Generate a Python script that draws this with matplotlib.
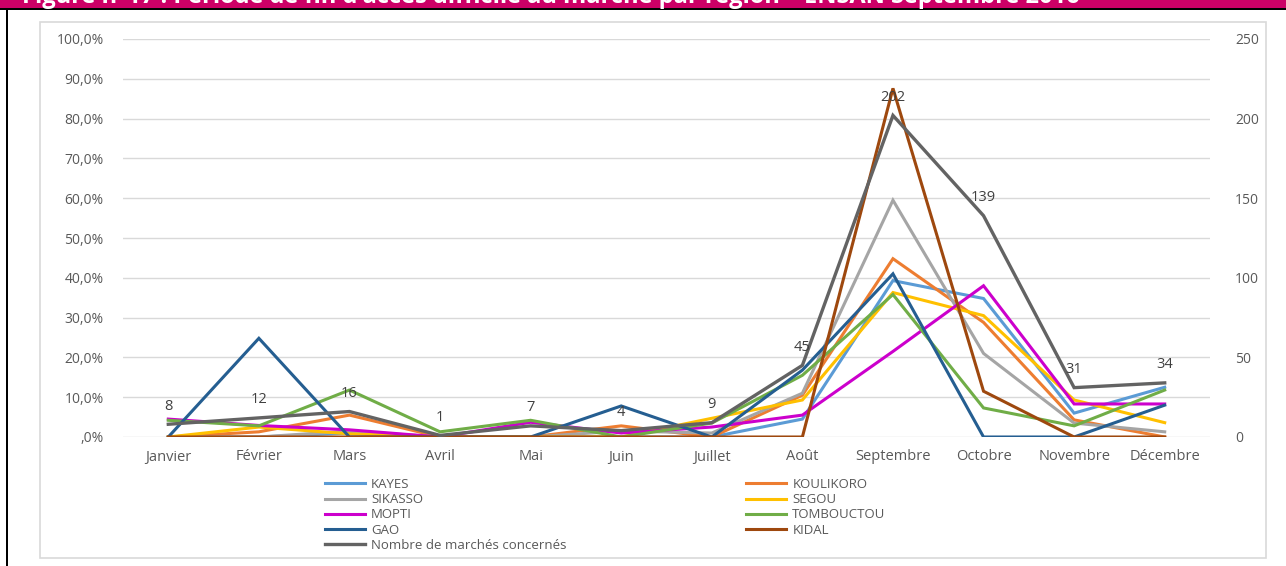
import numpy as np
import matplotlib.pyplot as plt
from matplotlib.patches import Rectangle
from matplotlib.ticker import FuncFormatter, MultipleLocator

plt.rcParams['font.family'] = ['Open Sans', 'DejaVu Sans']

# Mois et donnees ----------------------------------------------
mois = ['Janvier', 'Février', 'Mars', 'Avril', 'Mai', 'Juin', 'Juillet',
        'Août', 'Septembre', 'Octobre', 'Novembre', 'Décembre']

# part des marches (en %) par region
kayes      = [0.0, 0.0, 1.0, 0.0, 0.0, 0.0, 0.0, 4.5, 39.3, 34.8, 6.0, 12.5]
koulikoro  = [0.0, 1.3, 5.5, 0.0, 0.0, 2.8, 0.0, 10.5, 44.8, 28.8, 4.3, 0.0]
sikasso    = [0.0, 0.0, 1.5, 0.0, 0.0, 1.5, 1.0, 11.0, 59.5, 21.0, 3.5, 1.3]
segou      = [0.0, 2.5, 0.8, 0.0, 0.0, 0.0, 4.7, 9.3, 36.3, 30.5, 9.3, 3.6]
mopti      = [4.5, 2.9, 1.8, 0.0, 3.7, 1.0, 2.5, 5.5, 21.5, 38.0, 8.3, 8.3]
tombouctou = [4.2, 2.8, 11.8, 1.3, 4.2, 0.0, 3.5, 15.5, 35.8, 7.3, 2.8, 11.8]
gao        = [0.0, 24.8, 0.0, 0.0, 0.0, 7.8, 0.0, 16.8, 41.0, 0.0, 0.0, 8.0]
kidal      = [0.0, 0.0, 0.0, 0.0, 0.0, 0.0, 0.0, 0.0, 87.6, 11.5, 0.0, 0.0]

# nombre de marches concernes (axe secondaire)
nb_marches = [8, 12, 16, 1, 7, 4, 9, 45, 202, 139, 31, 34]

regions = ['KAYES', 'KOULIKORO', 'SIKASSO', 'SEGOU', 'MOPTI', 'TOMBOUCTOU', 'GAO', 'KIDAL']
series = [kayes, koulikoro, sikasso, segou, mopti, tombouctou, gao, kidal]
couleurs = ['#5B9BD5', '#ED7D31', '#A5A5A5', '#FFC000', '#CC00CC', '#70AD47', '#255E91', '#9E480E']
gris_nb = '#636363'
gris_txt = '#595959'

#Figure---------------------------------------------------------
fig = plt.figure(figsize=(12.86, 5.66), dpi=100)

# bandeau du titre (coupe en haut) et cadre noir
fig.patches.append(Rectangle((0, 1 - 8 / 566), 1, 8 / 566, transform=fig.transFigure,
                             facecolor='#CC0066', edgecolor='none', zorder=0))
fig.patches.append(Rectangle((0, 1 - 10 / 566), 1, 2 / 566, transform=fig.transFigure,
                             facecolor='black', edgecolor='none', zorder=1))
fig.patches.append(Rectangle((6 / 1286, 0), 2 / 1286, 1 - 8 / 566, transform=fig.transFigure,
                             facecolor='black', edgecolor='none', zorder=1))
fig.text(22 / 1286, 1 + 3 / 566,
         "Figure n°17 : Période de fin d'accès difficile au marché par région – ENSAN Septembre 2016",
         color='white', fontsize=17, fontweight='bold', va='center', ha='left', zorder=2)

# cadre gris du graphique
fig.patches.append(Rectangle((40 / 1286, 1 - 558 / 566), 1226 / 1286, 536 / 566,
                             transform=fig.transFigure, facecolor='none',
                             edgecolor='#D9D9D9', linewidth=1.2, zorder=1))

ax = fig.add_axes([123 / 1286, 1 - 437 / 566, 1087 / 1286, 398 / 566])
ax2 = ax.twinx()
x = np.arange(len(mois))

handles = []
for nom, vals, c in zip(regions, series, couleurs):
    h, = ax.plot(x, np.array(vals) / 100, color=c, linewidth=2.2, label=nom,
                 solid_joinstyle='miter')
    handles.append(h)

hn, = ax2.plot(x, nb_marches, color=gris_nb, linewidth=2.4,
               label='Nombre de marchés concernés', solid_joinstyle='miter')
for xi, v in zip(x, nb_marches):
    ax2.annotate(str(v), (xi, v), xytext=(0, 13), textcoords='offset points',
                 ha='center', va='center', fontsize=10.5, color='#404040')

ax.set_xlim(-0.5, 11.5)
ax.set_ylim(0, 1)
ax2.set_ylim(0, 250)
ax.yaxis.set_major_locator(MultipleLocator(0.1))
ax2.yaxis.set_major_locator(MultipleLocator(50))


def pct(v, pos):
    s = '%.1f%%' % (v * 100)
    s = s.replace('.', ',')
    if s.startswith('0,'):
        s = s[1:]
    return s


ax.yaxis.set_major_formatter(FuncFormatter(pct))
ax.set_xticks(x)
ax.set_xticklabels(mois)

for a in (ax, ax2):
    for sp in a.spines.values():
        sp.set_visible(False)
    a.tick_params(length=0, colors=gris_txt, labelsize=10)
ax.tick_params(axis='y', pad=14)
ax2.tick_params(axis='y', pad=18)
ax.tick_params(axis='x', pad=9, labelsize=10.5)

# grille tous les 10 %
for g in np.arange(0, 1.01, 0.1):
    ax.axhline(g, color='#D9D9D9', linewidth=1, zorder=0)

# legende sur deux colonnes
leg_h = [handles[i] for i in [0, 2, 4, 6]] + [hn] + [handles[i] for i in [1, 3, 5, 7]]
leg = fig.legend(handles=leg_h, labels=[h.get_label() for h in leg_h], ncol=2,
                 loc='upper left', bbox_to_anchor=(325 / 1286, 1 - 478 / 566),
                 frameon=False, fontsize=9.5, handlelength=3.0, handletextpad=0.5,
                 labelspacing=0.17, columnspacing=13.6, borderaxespad=0,
                 borderpad=0)
for t in leg.get_texts():
    t.set_color(gris_txt)

fig.savefig('out.png', dpi=100)
